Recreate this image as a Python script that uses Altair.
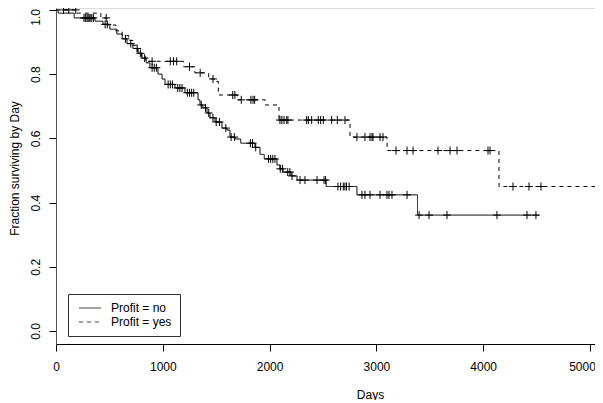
import altair as alt
import pandas as pd

FONT = "Liberation Sans"

# ---- Kaplan-Meier curve, Profit = no (event times / survival after event)
no_times = [0, 20, 170, 365, 440, 505, 570, 620, 665, 720, 770, 805, 845, 880,
            955, 993, 1021, 1114, 1208, 1330, 1348, 1376, 1414, 1442, 1489, 1554,
            1601, 1629, 1676, 1730, 1863, 1910, 1950, 2069, 2097, 2125, 2200, 2257,
            2530, 2818, 3385, 4522]
no_surv = [1.0, 0.99, 0.975, 0.965, 0.955, 0.94, 0.925, 0.91, 0.895, 0.88, 0.865,
           0.85, 0.835, 0.82, 0.80, 0.785, 0.768, 0.757, 0.742, 0.72, 0.704, 0.695,
           0.679, 0.664, 0.651, 0.632, 0.626, 0.604, 0.598, 0.585, 0.572, 0.55,
           0.536, 0.517, 0.505, 0.495, 0.483, 0.47, 0.45, 0.424, 0.361, 0.361]
no_censor = [262, 275, 290, 300, 310, 320, 335, 350, 460, 480, 650, 700, 760, 790,
             830, 900, 920, 940, 1050, 1070, 1090, 1140, 1160, 1180, 1230, 1250,
             1270, 1290, 1360, 1400, 1430, 1470, 1500, 1530, 1590, 1640, 1670, 1820,
             1840, 1870, 1990, 2010, 2030, 2050, 2100, 2120, 2170, 2190, 2210, 2285,
             2331, 2444, 2510, 2525, 2640, 2665, 2690, 2705, 2720, 2745, 2865, 2893,
             2940, 3034, 3099, 3118, 3146, 3287, 3400, 3493, 3661, 4129, 4410, 4494]

# ---- Kaplan-Meier curve, Profit = yes
yes_times = [0, 190, 420, 480, 560, 620, 680, 720, 760, 800, 840, 1195, 1300, 1430,
             1490, 1520, 1700, 1957, 2088, 2753, 3100, 4148, 5300]
yes_surv = [1.0, 0.99, 0.975, 0.953, 0.935, 0.92, 0.905, 0.89, 0.87, 0.855, 0.84,
            0.823, 0.804, 0.785, 0.777, 0.735, 0.72, 0.704, 0.657, 0.604, 0.562,
            0.45, 0.45]
yes_censor = [70, 120, 185, 470, 900, 1070, 1100, 1130, 1250, 1350, 1470, 1655,
              1675, 1735, 1825, 1845, 1860, 2097, 2115, 2135, 2160, 2172, 2347, 2363,
              2394, 2456, 2478, 2503, 2581, 2634, 2706, 2818, 2893, 2940, 2959, 2968,
              3034, 3062, 3184, 3287, 3343, 3577, 3690, 3755, 4045, 4064, 4279, 4429,
              4541]

groups = ["Profit = no", "Profit = yes"]
x_ticks = [0, 1000, 2000, 3000, 4000, 5000]
y_ticks = [0.0, 0.2, 0.4, 0.6, 0.8, 1.0]


def surv_at(times, surv, t):
    s = surv[0]
    for ti, si in zip(times, surv):
        if ti <= t:
            s = si
        else:
            break
    return s


curve_rows = []
cens_rows = []
for g, ts, ss, cs in [(groups[0], no_times, no_surv, no_censor),
                      (groups[1], yes_times, yes_surv, yes_censor)]:
    for i, (t, s) in enumerate(zip(ts, ss)):
        curve_rows.append({"Days": t, "Surv": s, "Profit": g, "order": i})
    for c in cs:
        cens_rows.append({"Days": c, "Surv": surv_at(ts, ss, c), "Profit": g})

curves = pd.DataFrame(curve_rows)
cens = pd.DataFrame(cens_rows)

x_enc = alt.X(
    "Days:Q",
    scale=alt.Scale(domain=[0, 5047], nice=False, zero=False),
    axis=alt.Axis(
        values=x_ticks, format="d", title="Days", grid=False,
        labelFont=FONT, labelFontSize=12, labelColor="black",
        labelBaseline="alphabetic", labelPadding=19, labelFlush=False,
        labelOffset={"expr": "datum.value == 5000 ? -8 : 0"},
        labelOverlap=False, tickSize=7, tickColor="black", domainColor="black",
        titleFont=FONT, titleFontSize=12, titleFontWeight="normal",
        titleColor="black", titleX=314, titleY=54, titleAlign="center",
        titleBaseline="alphabetic",
    ),
)
y_enc = alt.Y(
    "Surv:Q",
    scale=alt.Scale(domain=[-0.0405, 1.006], nice=False, zero=False),
    axis=alt.Axis(
        values=y_ticks, format=".1f", title="Fraction surviving by Day",
        grid=False, labelFont=FONT, labelFontSize=12, labelColor="black",
        labelAngle=270, labelAlign="center", labelBaseline="alphabetic",
        labelPadding=10, labelFlush=False, labelOverlap=False, tickSize=7,
        labelOffset={"expr": "datum.value == 1 ? 7 : 0"},
        tickColor="black", domainColor="#555555",
        titleFont=FONT, titleFontSize=12, titleFontWeight="normal",
        titleColor="black", titleAngle=270, titleX=-38, titleY=160,
        titleAlign="center", titleBaseline="alphabetic",
    ),
)

dash = alt.StrokeDash(
    "Profit:N",
    scale=alt.Scale(domain=groups, range=[[1, 0], [4, 4]]),
    legend=alt.Legend(
        title=None, orient="none", legendX=12, legendY=286, direction="vertical",
        symbolType="M-2,0H2", symbolSize=121, symbolStrokeWidth=1,
        symbolStrokeColor="#444444", symbolOffset=8, labelOffset=15,
        labelFont=FONT, labelFontSize=12, labelColor="black", padding=8,
        rowPadding=2, strokeColor="#333333", fillColor="white",
    ),
)

lines = alt.Chart(curves).mark_line(
    interpolate="step-after", color="black", strokeWidth=1, clip=True
).encode(x=x_enc, y=y_enc, strokeDash=dash, order="order:Q", detail="Profit:N")

marks = alt.Chart(cens).mark_point(
    shape="M-1,0H1M0,-1V1", size=64, filled=False, color="black",
    strokeWidth=1, opacity=1, clip=True
).encode(x="Days:Q", y="Surv:Q")

chart = alt.layer(lines, marks).properties(
    width=539, height=336,
    padding={"left": 48, "top": 0, "right": 0, "bottom": 56},
    autosize=alt.AutoSizeParams(type="none"),
).configure_view(stroke=None).configure(background="white")

chart.save("out.html", embed_options={"renderer": "svg", "actions": False})
